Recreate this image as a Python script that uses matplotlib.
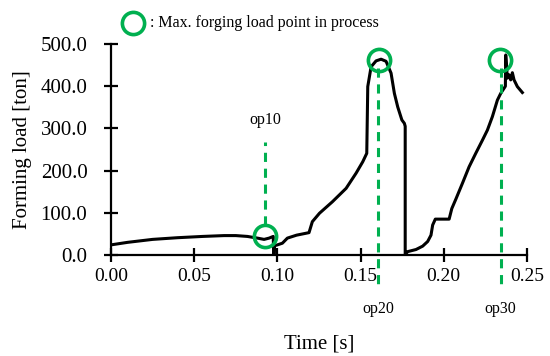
import matplotlib.pyplot as plt
import numpy as np

plt.rcParams['font.family'] = ['Liberation Serif', 'DejaVu Serif']

# forming load curve (time [s], load [ton])
t1 = [0.000, 0.010, 0.025, 0.040, 0.055, 0.068, 0.075, 0.082, 0.088, 0.092, 0.095, 0.0975, 0.0978]
f1 = [24, 30, 37, 41, 44, 46, 46, 44, 40, 37, 40, 44, 0]

t2 = [0.0980, 0.0983, 0.1000, 0.1030, 0.1060, 0.1115, 0.1190, 0.1210, 0.1253, 0.1330,
      0.1413, 0.1473, 0.1513, 0.1537, 0.1543, 0.1563, 0.1593, 0.1623, 0.1653, 0.1683,
      0.1703, 0.1723, 0.1748, 0.1763, 0.1768, 0.1768]
f2 = [0, 22, 24, 28, 40, 47, 53, 79, 99, 126, 158, 194, 221, 241, 399, 446, 460,
      464, 459, 431, 383, 351, 320, 312, 305, 0]

t3 = [0.1770, 0.1783, 0.1833, 0.1873, 0.1903, 0.1923, 0.1933, 0.1949, 0.2032, 0.2048,
      0.2072, 0.2112, 0.2152, 0.2192, 0.2232, 0.2262, 0.2292, 0.2322, 0.2342, 0.2362,
      0.2370, 0.2372, 0.2382, 0.2392, 0.2402, 0.2412, 0.2422, 0.2442, 0.2472]
f3 = [2, 8, 13, 21, 32, 47, 71, 85, 85, 110, 132, 170, 209, 241, 272, 296, 328, 367,
      383, 395, 400, 474, 419, 427, 415, 432, 415, 399, 385]

# max load points per operation
op_names = ['op10', 'op20', 'op30']
op_t = [0.0923, 0.1613, 0.2336]
op_f = [46, 462, 462]

green = '#00B050'

fig = plt.figure(figsize=(5.5, 3.56), dpi=100)
ax = fig.add_axes([0.2018, 0.2837, 0.7564, 0.5927])

t = t1 + t2 + t3
f = f1 + f2 + f3
ax.plot(t, f, color='black', lw=2.2, solid_joinstyle='round')

# circles
ax.plot(op_t, op_f, 'o', ms=16, mfc='none', mec=green, mew=2.6, clip_on=False, zorder=5)

# dashed guide lines
dash = (0, (3, 2.2))
ax.plot([op_t[0] + 0.0005] * 2, [72, 268], color=green, lw=2.2, ls=dash, clip_on=False)
ax.plot([op_t[1] - 0.0006] * 2, [444, -78], color=green, lw=2.2, ls=dash, clip_on=False)
ax.plot([op_t[2] + 0.0006] * 2, [444, -78], color=green, lw=2.2, ls=dash, clip_on=False)

ax.text(op_t[0] + 0.0005, 300, op_names[0], ha='center', va='bottom', fontsize=11.5)
ax.text(op_t[1] - 0.0006, -108, op_names[1], ha='center', va='top', fontsize=11.5)
ax.text(op_t[2] + 0.0006, -108, op_names[2], ha='center', va='top', fontsize=11.5)

ax.set_xlim(0, 0.25)
ax.set_ylim(0, 500)
ax.set_xticks(np.arange(0, 0.2501, 0.05))
ax.set_xticklabels(['%.2f' % v for v in np.arange(0, 0.2501, 0.05)])
ax.set_yticks(np.arange(0, 501, 100))
ax.set_yticklabels(['%.1f' % v for v in np.arange(0, 501, 100)])
for s in ['top', 'right']:
    ax.spines[s].set_visible(False)
for s in ['left', 'bottom']:
    ax.spines[s].set_linewidth(1.6)
ax.tick_params(direction='inout', length=10, width=1.6)
ax.tick_params(axis='x', pad=4, labelsize=14)
ax.tick_params(axis='y', pad=12, labelsize=15)
ax.set_xlabel('Time [s]', fontsize=15, labelpad=36)
ax.set_ylabel('Forming load [ton]', fontsize=15, labelpad=6)

# legend-like note at top
fig.lines.append(plt.Line2D([133 / 550], [1 - 23 / 356], marker='o', ms=16, mfc='none',
                            mec=green, mew=2.6, transform=fig.transFigure))
fig.text(150 / 550, 1 - 23 / 356, ': Max. forging load point in process', fontsize=11.5,
         va='center', ha='left')

fig.savefig('out.png', dpi=100)
